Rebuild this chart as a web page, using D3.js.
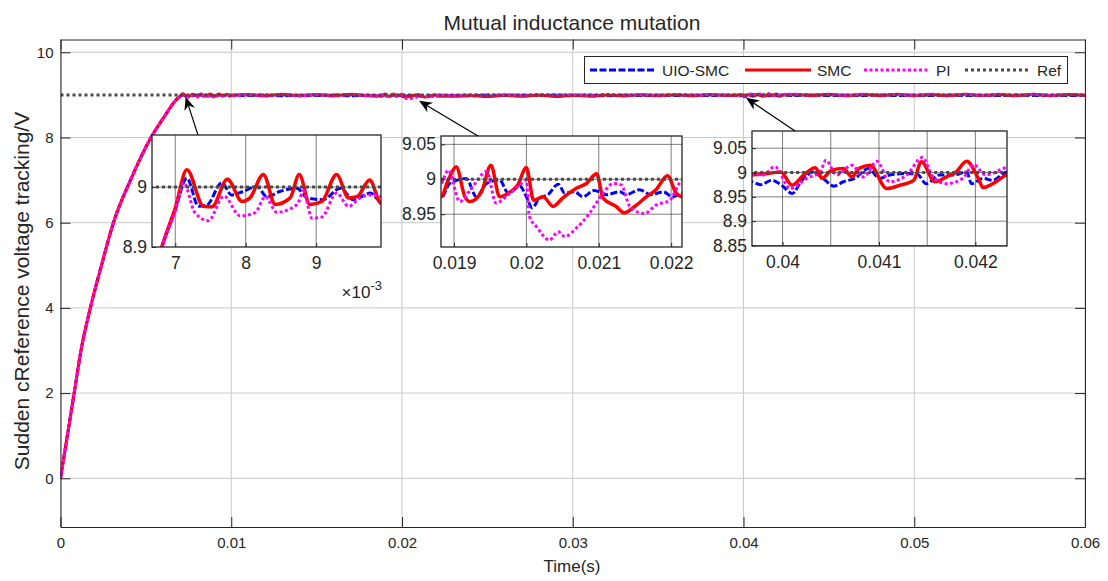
<!DOCTYPE html>
<html>
<head>
  <meta charset="utf-8">
  <title>Mutual inductance mutation</title>
  <script src="https://cdn.jsdelivr.net/npm/d3@7/dist/d3.min.js"></script>
  <style>
    body { margin: 0; background: #fff; }
    text { font-family: "Liberation Sans", Arial, sans-serif; fill: #262626; }
  </style>
</head>
<body>
<svg width="1108" height="581"></svg>
<script>
// ---- data ----
const xMainTicks = [0, 0.01, 0.02, 0.03, 0.04, 0.05, 0.06];
const yMainTicks = [0, 2, 4, 6, 8, 10];

// start-up transient, shared by all controllers
const riseT = [0, 0.0004, 0.0008, 0.0012, 0.00175, 0.0024, 0.0031, 0.0041, 0.0053, 0.0061, 0.0066];
const riseV = [0, 1.0, 2.0, 3.0, 4.0, 5.0, 6.0, 7.0, 8.0, 8.5, 8.8];

// zoomed window 1 (first overshoot)
const uioW1 = [[0.00681,8.900],[0.00700,8.962],[0.007165,9.015],[0.00733,8.968],[0.00745,8.970],[0.00766,9.007],[0.00780,8.987],[0.00797,8.993],[0.00816,9.001],[0.00830,8.984],[0.00849,8.993],[0.00873,8.998],[0.00887,8.982],[0.00910,8.979],[0.00934,8.998],[0.00953,8.979],[0.00977,8.990],[0.00992,8.976]];
const smcW1 = [[0.00681,8.900],[0.00700,8.965],[0.007165,9.029],[0.00740,8.968],[0.00752,8.967],[0.00774,9.013],[0.00795,8.976],[0.00806,8.982],[0.00825,9.021],[0.00842,8.971],[0.00863,8.982],[0.00876,9.021],[0.00891,8.971],[0.00908,8.976],[0.00929,9.021],[0.00946,8.982],[0.00958,8.984],[0.00976,9.012],[0.00992,8.973]];
const piW1 = [[0.00681,8.900],[0.00700,8.960],[0.00712,9.007],[0.00728,8.957],[0.00747,8.944],[0.00769,8.985],[0.00792,8.952],[0.00813,8.957],[0.00828,8.984],[0.00844,8.958],[0.00873,8.971],[0.00882,8.993],[0.00894,8.948],[0.00908,8.950],[0.00929,8.990],[0.00946,8.968],[0.00962,8.982],[0.00977,8.987],[0.00992,8.984]];

// zoomed window 2 (mutual inductance step at 0.02 s)
const uioW2 = [[0.01882,8.973],[0.01894,8.994],[0.01917,9.001],[0.01931,8.975],[0.01945,8.994],[0.01963,8.999],[0.01975,8.980],[0.01991,8.990],[0.02000,8.975],[0.02008,8.959],[0.02018,8.973],[0.02030,8.978],[0.02044,8.993],[0.02053,8.980],[0.02067,8.982],[0.02078,8.975],[0.02094,8.984],[0.02110,8.978],[0.02129,8.982],[0.02138,8.978],[0.02156,8.985],[0.02172,8.978],[0.02189,8.982],[0.02202,8.975],[0.02215,8.980]];
const smcW2 = [[0.01882,8.975],[0.01892,8.999],[0.01903,9.018],[0.01915,8.975],[0.01922,8.968],[0.01938,8.982],[0.01951,9.020],[0.01963,8.975],[0.01975,8.980],[0.01988,8.992],[0.02000,9.017],[0.02010,8.970],[0.02023,8.975],[0.02037,8.961],[0.02050,8.973],[0.02069,8.987],[0.02083,8.994],[0.02097,9.008],[0.02106,8.973],[0.02124,8.961],[0.02135,8.952],[0.02152,8.963],[0.02166,8.975],[0.02179,8.985],[0.02195,9.005],[0.02207,8.980],[0.02215,8.975]];
const piW2 = [[0.01882,8.994],[0.01892,9.013],[0.01908,8.968],[0.01924,8.987],[0.01945,9.011],[0.01958,8.966],[0.01977,8.980],[0.01993,8.994],[0.02000,8.999],[0.02004,8.947],[0.02014,8.932],[0.02032,8.913],[0.02044,8.925],[0.02053,8.918],[0.02069,8.930],[0.02087,8.951],[0.02106,8.980],[0.02120,8.994],[0.02131,8.992],[0.02143,8.961],[0.02163,8.951],[0.02179,8.963],[0.02198,8.970],[0.02215,8.997]];

// zoomed window 3 (around 0.041 s)
const uioW3 = [[0.03968,8.981],[0.03977,8.975],[0.03989,8.984],[0.03999,8.974],[0.04010,8.957],[0.04020,8.984],[0.04032,9.001],[0.04042,8.988],[0.04053,8.972],[0.04063,8.981],[0.04075,8.988],[0.04089,9.008],[0.04101,8.988],[0.04111,8.995],[0.04129,8.998],[0.04140,8.996],[0.04149,8.977],[0.04163,8.995],[0.04177,8.995],[0.04191,9.001],[0.04196,8.977],[0.04208,8.988],[0.04218,8.984],[0.04233,9.001]];
const smcW3 = [[0.03968,8.995],[0.03984,8.998],[0.03998,9.001],[0.04010,8.974],[0.04022,8.995],[0.04034,9.010],[0.04041,8.988],[0.04051,9.005],[0.04063,9.008],[0.04072,8.991],[0.04079,9.008],[0.04091,9.015],[0.04108,8.967],[0.04122,8.974],[0.04136,8.984],[0.04144,9.022],[0.04158,8.981],[0.04170,8.991],[0.04180,9.001],[0.04191,9.023],[0.04203,8.988],[0.04208,8.969],[0.04218,8.977],[0.04233,8.995]];
const piW3 = [[0.03968,8.996],[0.03980,8.995],[0.03992,9.012],[0.04008,8.967],[0.04025,8.988],[0.04039,9.001],[0.04045,9.025],[0.04056,8.995],[0.04072,9.015],[0.04084,8.991],[0.04098,9.023],[0.04111,8.981],[0.04129,8.995],[0.04145,9.031],[0.04156,8.991],[0.04170,8.977],[0.04187,8.988],[0.04198,9.016],[0.04211,8.995],[0.04233,9.010]];

// coarse steady-state samples for the full view
const steadyT = [0.010,0.011,0.012,0.013,0.014,0.015,0.016,0.017,0.018,0.019,
                 0.020,0.021,0.022,0.023,0.024,0.025,0.026,0.027,0.028,0.029,
                 0.030,0.031,0.032,0.033,0.034,0.035,0.036,0.037,0.038,0.039,
                 0.040,0.041,0.042,0.043,0.044,0.045,0.046,0.047,0.048,0.049,
                 0.050,0.051,0.052,0.053,0.054,0.055,0.056,0.057,0.058,0.059,0.060];
const uioSteady = [8.990,8.985,8.995,8.980,8.990,8.985,8.995,8.980,8.990,8.990,
                   8.980,8.980,8.980,8.985,8.980,8.990,8.985,8.990,8.985,8.990,
                   8.985,8.990,8.980,8.990,8.985,8.990,8.985,8.990,8.985,8.990,
                   8.980,8.990,8.990,8.985,8.995,8.985,8.990,8.985,8.995,8.985,
                   8.990,8.985,8.995,8.985,8.990,8.985,8.995,8.985,8.990,8.985,8.990];
const smcSteady = [8.985,9.010,8.978,9.012,8.982,9.008,8.978,9.012,8.980,9.005,
                   9.010,8.975,8.990,8.965,8.985,8.960,8.990,8.965,8.992,8.962,
                   8.988,8.968,8.995,8.975,9.002,8.978,9.005,8.980,9.008,8.985,
                   9.000,8.970,8.990,9.010,8.982,9.012,8.978,9.010,8.980,9.012,
                   8.982,9.010,8.978,9.012,8.984,9.008,8.980,9.012,8.982,9.010,8.985];
const piSteady = [8.975,9.000,8.970,9.005,8.975,9.000,8.972,9.005,8.978,8.995,
                  8.999,8.980,8.997,8.985,9.000,8.990,9.005,8.992,9.008,8.995,
                  9.005,8.992,9.008,8.995,9.005,8.992,9.008,8.995,9.005,8.995,
                  8.998,8.985,9.005,9.015,8.992,9.012,8.990,9.015,8.992,9.012,
                  8.990,9.015,8.992,9.012,8.990,9.015,8.992,9.012,8.990,9.012,8.995];

const refT = [0, 0.06];
const refV = [9, 9];

const legendLabels = ['UIO-SMC', 'SMC', 'PI', 'Ref'];

// inset axes ticks
const in1XTicks = [0.007, 0.008, 0.009];
const in1YTicks = [8.9, 9];
const in2XTicks = [0.019, 0.02, 0.021, 0.022];
const in2YTicks = [8.95, 9, 9.05];
const in3XGrid = [0.04, 0.0405, 0.041, 0.0415, 0.042];
const in3XTicks = [0.04, 0.041, 0.042];
const in3YTicks = [8.85, 8.9, 8.95, 9, 9.05];

// ---- build full series ----
function buildSeries(w1, w2, w3, steady) {
  const wins = [w1, w2, w3].map(w => [w[0][0], w[w.length - 1][0]]);
  const rise = riseT.map((t, i) => [t, riseV[i]]).filter(p => p[0] < w1[0][0]);
  const flat = steadyT.map((t, i) => [t, steady[i]])
    .filter(p => !wins.some(w => p[0] >= w[0] && p[0] <= w[1]));
  return rise.concat(w1, w2, w3, flat).sort((a, b) => a[0] - b[0]);
}

const series = [
  { key: 'uio', label: legendLabels[0], color: '#0000ff', dash: '7,2.5', width: 3, data: buildSeries(uioW1, uioW2, uioW3, uioSteady) },
  { key: 'smc', label: legendLabels[1], color: '#ff0000', dash: null, width: 3, data: buildSeries(smcW1, smcW2, smcW3, smcSteady) },
  { key: 'pi', label: legendLabels[2], color: '#ff00ff', dash: '3,2.5', width: 3, data: buildSeries(piW1, piW2, piW3, piSteady) },
  { key: 'ref', label: legendLabels[3], color: '#4a4a4a', dash: '3,3', width: 3, data: refT.map((t, i) => [t, refV[i]]) }
];

// ---- main axes ----
const svg = d3.select('svg');
const frame = { left: 60.5, right: 1085, top: 39.5, bottom: 527 };
const x = d3.scaleLinear().domain([0, 0.06]).range([frame.left, frame.right]);
const y = d3.scaleLinear().domain([-1.143, 10.3]).range([frame.bottom, frame.top]);
const gridColor = '#c9c9c9';
const axisColor = '#262626';

svg.append('rect').attr('width', 1108).attr('height', 581).attr('fill', '#fff');

const grid = svg.append('g');
grid.selectAll('.gx').data(xMainTicks).join('line')
  .attr('x1', d => x(d)).attr('x2', d => x(d))
  .attr('y1', frame.top).attr('y2', frame.bottom)
  .attr('stroke', gridColor);
grid.selectAll('.gy').data(yMainTicks).join('line')
  .attr('x1', frame.left).attr('x2', frame.right)
  .attr('y1', d => y(d)).attr('y2', d => y(d))
  .attr('stroke', gridColor);

svg.append('clipPath').attr('id', 'clip-main')
  .append('rect')
  .attr('x', frame.left).attr('y', frame.top)
  .attr('width', frame.right - frame.left).attr('height', frame.bottom - frame.top);

const line = d3.line().curve(d3.curveMonotoneX).x(d => x(d[0])).y(d => y(d[1]));
svg.append('g').attr('clip-path', 'url(#clip-main)')
  .selectAll('path').data(series).join('path')
  .attr('d', d => line(d.data))
  .attr('fill', 'none')
  .attr('stroke', d => d.color)
  .attr('stroke-width', d => d.width)
  .attr('stroke-dasharray', d => d.dash);

// axes with inward ticks
function styleAxis(g) {
  g.select('.domain').attr('stroke', axisColor);
  g.selectAll('.tick line').attr('stroke', axisColor);
  g.selectAll('.tick text').attr('fill', axisColor).style('font-size', '15px');
}
svg.append('g').attr('transform', `translate(0,${frame.bottom})`)
  .call(d3.axisBottom(x).tickValues(xMainTicks).tickFormat(d => String(d)).tickSize(-10).tickSizeOuter(0).tickPadding(10))
  .call(styleAxis);
svg.append('g').attr('transform', `translate(${frame.left},0)`)
  .call(d3.axisLeft(y).tickValues(yMainTicks).tickFormat(d => String(d)).tickSize(-10).tickSizeOuter(0).tickPadding(7))
  .call(styleAxis);
svg.append('g').attr('transform', `translate(0,${frame.top})`)
  .call(d3.axisTop(x).tickValues(xMainTicks).tickFormat('').tickSize(-10).tickSizeOuter(0))
  .call(styleAxis);
svg.append('g').attr('transform', `translate(${frame.right},0)`)
  .call(d3.axisRight(y).tickValues(yMainTicks).tickFormat('').tickSize(-10).tickSizeOuter(0))
  .call(styleAxis);

svg.append('text').attr('x', 572).attr('y', 30).attr('text-anchor', 'middle')
  .style('font-size', '21px').attr('fill', '#000').text('Mutual inductance mutation');
svg.append('text').attr('x', 572).attr('y', 572).attr('text-anchor', 'middle')
  .style('font-size', '17px').attr('fill', '#000').text('Time(s)');
svg.append('text').attr('transform', 'translate(22,291) rotate(-90)').attr('dy', '0.35em')
  .attr('text-anchor', 'middle').style('font-size', '21px').attr('fill', '#000')
  .text('Sudden cReference voltage tracking/V');

// ---- legend ----
const legend = svg.append('g');
legend.append('rect').attr('x', 584.5).attr('y', 56.5).attr('width', 483).attr('height', 27)
  .attr('fill', '#fff').attr('stroke', axisColor);
const legendX = [590, 745, 864, 965];
series.forEach((s, i) => {
  legend.append('line')
    .attr('x1', legendX[i]).attr('x2', legendX[i] + 66)
    .attr('y1', 70).attr('y2', 70)
    .attr('stroke', s.color).attr('stroke-width', s.width)
    .attr('stroke-dasharray', s.dash);
  legend.append('text').attr('x', legendX[i] + 72).attr('y', 70).attr('dy', '0.36em')
    .style('font-size', '15.5px').attr('fill', '#000').text(s.label);
});

// ---- insets ----
const insets = [
  { id: 'in1', box: [152, 135, 381, 247], xDomain: [0.00667, 0.00992], yDomain: [8.9, 9.087],
    xGrid: in1XTicks, xTicks: in1XTicks, xFmt: d => String(Math.round(d * 1000)),
    yGrid: [9], yTicks: in1YTicks },
  { id: 'in2', box: [441, 136, 682, 247], xDomain: [0.01882, 0.02215], yDomain: [8.903, 9.062],
    xGrid: in2XTicks, xTicks: in2XTicks, xFmt: d => String(d),
    yGrid: in2YTicks, yTicks: in2YTicks },
  { id: 'in3', box: [752, 131, 1007, 246], xDomain: [0.039683, 0.042328], yDomain: [8.849, 9.0853],
    xGrid: in3XGrid, xTicks: in3XTicks, xFmt: d => String(d),
    yGrid: in3YTicks, yTicks: in3YTicks }
];

insets.forEach(cfg => {
  const [x0, y0, x1, y1] = cfg.box;
  const ix = d3.scaleLinear().domain(cfg.xDomain).range([x0, x1]);
  const iy = d3.scaleLinear().domain(cfg.yDomain).range([y1, y0]);
  const g = svg.append('g');
  g.append('rect').attr('x', x0).attr('y', y0).attr('width', x1 - x0).attr('height', y1 - y0).attr('fill', '#fff');
  g.selectAll('.gx').data(cfg.xGrid).join('line')
    .attr('x1', d => ix(d)).attr('x2', d => ix(d)).attr('y1', y0).attr('y2', y1)
    .attr('stroke', '#262626').attr('stroke-width', 0.8).attr('stroke-opacity', 0.75);
  g.selectAll('.gy').data(cfg.yGrid).join('line')
    .attr('x1', x0).attr('x2', x1).attr('y1', d => iy(d)).attr('y2', d => iy(d))
    .attr('stroke', '#262626').attr('stroke-width', 0.8).attr('stroke-opacity', 0.75);

  g.append('clipPath').attr('id', 'clip-' + cfg.id)
    .append('rect').attr('x', x0).attr('y', y0).attr('width', x1 - x0).attr('height', y1 - y0);
  const il = d3.line().curve(d3.curveMonotoneX).x(d => ix(d[0])).y(d => iy(d[1]));
  g.append('g').attr('clip-path', `url(#clip-${cfg.id})`)
    .selectAll('path').data(series).join('path')
    .attr('d', d => il(d.data))
    .attr('fill', 'none')
    .attr('stroke', d => d.color)
    .attr('stroke-width', d => d.key === 'smc' ? 3.5 : 3)
    .attr('stroke-dasharray', d => d.dash);

  const styleInset = a => {
    a.select('.domain').remove();
    a.selectAll('.tick line').attr('stroke', axisColor);
    a.selectAll('.tick text').attr('fill', '#333').style('font-size', '17.5px');
  };
  g.append('g').attr('transform', `translate(0,${y1})`)
    .call(d3.axisBottom(ix).tickValues(cfg.xTicks).tickFormat(cfg.xFmt).tickSize(-4).tickPadding(10))
    .call(styleInset);
  g.append('g').attr('transform', `translate(${x0},0)`)
    .call(d3.axisLeft(iy).tickValues(cfg.yTicks).tickFormat(d => String(d)).tickSize(-4).tickPadding(5))
    .call(styleInset);
  g.append('rect').attr('x', x0).attr('y', y0).attr('width', x1 - x0).attr('height', y1 - y0)
    .attr('fill', 'none').attr('stroke', axisColor).attr('stroke-width', 1.3);
});

// exponent label of the first inset
const expo = svg.append('text').attr('x', 382).attr('y', 298).attr('text-anchor', 'end')
  .style('font-size', '17px').attr('fill', '#333');
expo.append('tspan').text('\u00d710');
expo.append('tspan').attr('dy', -8).style('font-size', '13px').text('-3');

// ---- arrows (tail -> tip, in main data coordinates) ----
const arrows = [
  [[0.00805, 8.06], [0.00733, 8.95]],
  [[0.02445, 8.035], [0.0210, 8.86]],
  [[0.04302, 8.15], [0.04015, 8.93]]
];
arrows.forEach(([tail, tip]) => {
  const xa = x(tail[0]), ya = y(tail[1]), xb = x(tip[0]), yb = y(tip[1]);
  const ang = Math.atan2(yb - ya, xb - xa);
  const L = 13, W = 5.5, N = 9;
  const ca = Math.cos(ang), sa = Math.sin(ang);
  const bx = xb - L * ca, by = yb - L * sa;
  const nx = xb - N * ca, ny = yb - N * sa;
  svg.append('line').attr('x1', xa).attr('y1', ya).attr('x2', nx).attr('y2', ny)
    .attr('stroke', '#000').attr('stroke-width', 1.2);
  svg.append('path')
    .attr('d', `M${xb},${yb}L${bx - W * sa},${by + W * ca}L${nx},${ny}L${bx + W * sa},${by - W * ca}Z`)
    .attr('fill', '#000');
});
</script>
</body>
</html>
